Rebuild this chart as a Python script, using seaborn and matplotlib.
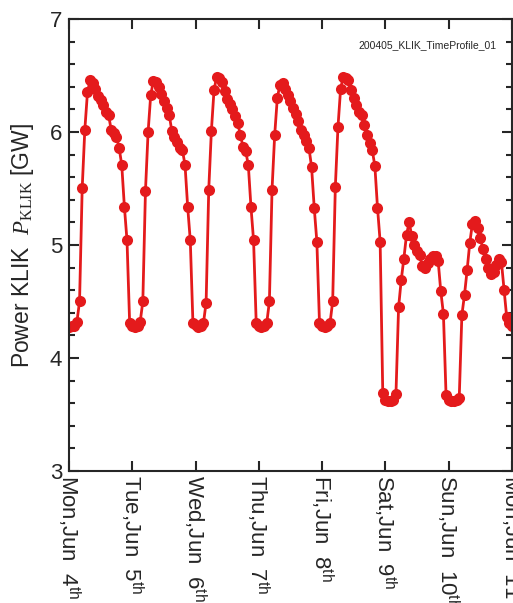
import matplotlib
matplotlib.use('Agg')
import matplotlib.pyplot as plt
from matplotlib.ticker import MultipleLocator
import seaborn as sns
import numpy as np
import pandas as pd

# ===============================
# DATA (hourly values, GW)
# ===============================
mon = [4.27, 4.28, 4.28, 4.32, 4.50, 5.50, 6.02, 6.35, 6.46, 6.43, 6.38, 6.32,
       6.28, 6.24, 6.18, 6.15, 6.02, 5.99, 5.96, 5.86, 5.71, 5.34, 5.04, 4.31]
tue = [4.28, 4.27, 4.28, 4.32, 4.50, 5.48, 6.00, 6.33, 6.45, 6.44, 6.40, 6.34,
       6.27, 6.21, 6.15, 6.01, 5.96, 5.91, 5.86, 5.84, 5.71, 5.34, 5.04, 4.31]
wed = [4.29, 4.27, 4.28, 4.31, 4.49, 5.49, 6.01, 6.37, 6.49, 6.48, 6.44, 6.36,
       6.29, 6.25, 6.20, 6.14, 6.08, 5.97, 5.87, 5.83, 5.71, 5.34, 5.04, 4.31]
thu = [4.28, 4.27, 4.28, 4.31, 4.50, 5.49, 5.97, 6.30, 6.42, 6.43, 6.38, 6.33,
       6.27, 6.21, 6.16, 6.10, 6.02, 5.97, 5.92, 5.86, 5.69, 5.33, 5.03, 4.31]
fri = [4.28, 4.27, 4.28, 4.31, 4.50, 5.51, 6.04, 6.38, 6.49, 6.48, 6.46, 6.37,
       6.30, 6.24, 6.18, 6.15, 6.06, 5.97, 5.90, 5.84, 5.70, 5.33, 5.03, 3.69]
sat = [3.63, 3.62, 3.62, 3.63, 3.68, 4.45, 4.69, 4.88, 5.09, 5.20, 5.08, 5.00,
       4.95, 4.91, 4.81, 4.80, 4.84, 4.88, 4.90, 4.90, 4.86, 4.59, 4.39, 3.67]
sun = [3.63, 3.62, 3.62, 3.63, 3.65, 4.38, 4.56, 4.78, 5.02, 5.19, 5.21, 5.15,
       5.06, 4.96, 4.88, 4.80, 4.74, 4.76, 4.82, 4.88, 4.85, 4.60, 4.36, 4.31]
next_mon = [4.28]

day_labels = ['Mon,Jun  4$^{\\mathsf{th}}$', 'Tue,Jun  5$^{\\mathsf{th}}$',
              'Wed,Jun  6$^{\\mathsf{th}}$', 'Thu,Jun  7$^{\\mathsf{th}}$',
              'Fri,Jun  8$^{\\mathsf{th}}$', 'Sat,Jun  9$^{\\mathsf{th}}$',
              'Sun,Jun  10$^{\\mathsf{th}}$', 'Mon,Jun  11$^{\\mathsf{th}}$']

power = mon + tue + wed + thu + fri + sat + sun + next_mon
df = pd.DataFrame({'dia': np.arange(len(power)) / 24.0, 'potencia': power})

# ===============================
# STYLE
# ===============================
sns.set_style('ticks')
plt.rcParams['font.family'] = ['Liberation Sans', 'DejaVu Sans']
plt.rcParams['mathtext.fontset'] = 'custom'
plt.rcParams['mathtext.rm'] = 'Liberation Serif'
plt.rcParams['mathtext.it'] = 'Liberation Serif:italic'
plt.rcParams['mathtext.sf'] = 'Liberation Sans'

cor = '#e41a1c'

fig = plt.figure(figsize=(5.13, 6.03), dpi=100)
ax = fig.add_axes([0.1345, 0.219, 0.8635, 0.7495])

sns.lineplot(data=df, x='dia', y='potencia', ax=ax, color=cor, linewidth=2,
             marker='o', markersize=8, markeredgecolor=cor, markeredgewidth=0)

ax.set_xlim(0, 7)
ax.set_ylim(3, 7)
ax.yaxis.set_minor_locator(MultipleLocator(0.2))

ax.set_xticks(range(len(day_labels)))
ax.set_xticklabels(day_labels, rotation=-90, fontsize=16, va='top', ha='center')
ax.set_yticks([3, 4, 5, 6, 7])
ax.set_yticklabels(['3', '4', '5', '6', '7'], fontsize=16)

for s in ax.spines.values():
    s.set_visible(True)
    s.set_linewidth(1.5)
ax.tick_params(which='both', direction='in', top=True, right=True, width=1.5)
ax.tick_params(which='major', length=7, pad=5)
ax.tick_params(axis='x', which='major', pad=3)
ax.tick_params(which='minor', length=4)

ax.set_xlabel('')
ax.set_ylabel('Power KLIK  $P_{\\mathrm{KLIK}}$ [GW]', fontsize=16.5)
ax.yaxis.set_label_coords(-0.075, 0.5)

ax.text(0.966, 0.942, '200405_KLIK_TimeProfile_01', transform=ax.transAxes,
        ha='right', va='center', fontsize=7.5)

plt.savefig('out.png', dpi=100)
